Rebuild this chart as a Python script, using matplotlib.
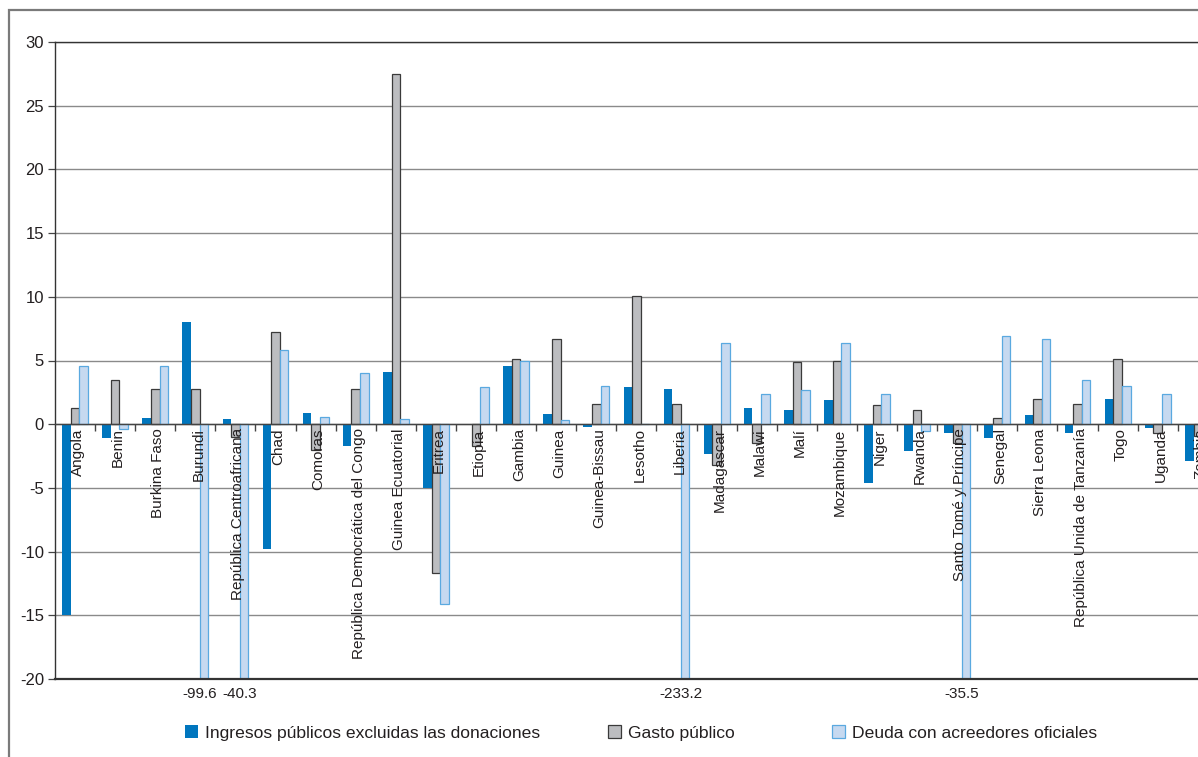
import matplotlib
matplotlib.use("Agg")
import matplotlib.pyplot as plt
from matplotlib.patches import Rectangle, Patch
from matplotlib.ticker import FixedLocator, MultipleLocator
from matplotlib.transforms import ScaledTranslation
import numpy as np

plt.rcParams['font.family'] = ['Liberation Sans', 'DejaVu Sans']
plt.rcParams['axes.unicode_minus'] = False

categories = ["Angola", "Benin", "Burkina Faso", "Burundi", "República Centroafricana",
              "Chad", "Comoras", "República Democrática del Congo", "Guinea Ecuatorial",
              "Eritrea", "Etiopía", "Gambia", "Guinea", "Guinea-Bissau", "Lesotho",
              "Liberia", "Madagascar", "Malawi", "Malí", "Mozambique", "Niger", "Rwanda",
              "Santo Tomé y Príncipe", "Senegal", "Sierra Leona",
              "República Unida de Tanzanía", "Togo", "Uganda", "Zambia"]
ingresos = [-15.0, -1.1, 0.5, 8.0, 0.4, -9.8, 0.9, -1.7, 4.1, -5.0, 0.0, 4.6, 0.8, -0.2,
            2.9, 2.8, -2.3, 1.3, 1.1, 1.9, -4.6, -2.1, -0.7, -1.1, 0.7, -0.7, 2.0, -0.3, -2.9]
gasto = [1.3, 3.5, 2.8, 2.8, -1.0, 7.2, -2.0, 2.8, 27.5, -11.7, -1.7, 5.1, 6.7, 1.6,
         10.1, 1.6, -3.2, -1.5, 4.9, 5.0, 1.5, 1.1, -1.5, 0.5, 2.0, 1.6, 5.1, -0.7, -0.9]
deuda = [4.6, -0.4, 4.6, -99.6, -40.3, 5.8, 0.6, 4.0, 0.4, -14.1, 2.9, 5.0, 0.3, 3.0,
         0.0, -233.2, 6.4, 2.4, 2.7, 6.4, 2.4, -0.5, -35.5, 6.9, 6.7, 3.5, 3.0, 2.4, 4.2]
series_names = ["Ingresos públicos excluidas las donaciones", "Gasto público",
                "Deuda con acreedores oficiales"]

W, H = 1198, 757
fig = plt.figure(figsize=(W / 100, H / 100), dpi=100)
fig.patch.set_facecolor('white')

left_px, top_px, bottom_px = 55, 42, 679
cat_w = 40.1
n = len(categories)
right_px = left_px + n * cat_w
ax = fig.add_axes([left_px / W, (H - bottom_px) / H,
                   (right_px - left_px) / W, (bottom_px - top_px) / H])

# outer chart frame
fig.add_artist(Rectangle((9 / W, -0.1), 1.2, (H - 10) / H + 0.1, transform=fig.transFigure,
                         fill=False, edgecolor='#7a7a7a', linewidth=1.6))

x = np.arange(n)
bw = 0.215
c_blue, c_gray, c_light = '#0076BE', '#BCBDC0', '#C6D9F0'
txt = '#231F20'

ax.bar(x - bw, ingresos, bw, color=c_blue, edgecolor='none', zorder=2)
ax.bar(x, gasto, bw, color=c_gray, edgecolor='#3a3a3a', linewidth=0.9, zorder=2)
ax.bar(x + bw, deuda, bw, color=c_light, edgecolor='#5AA9E0', linewidth=0.9, zorder=2)

ax.set_xlim(-0.5, n - 0.5)
ax.set_ylim(-20, 30)
ax.yaxis.set_major_locator(MultipleLocator(5))
ax.yaxis.grid(True, color='#8a8a8a', linewidth=1.0)
ax.yaxis.set_zorder(0.5)
ax.xaxis.set_zorder(3)
ax.tick_params(axis='y', direction='out', length=5, width=0.9, color='#444444',
               labelsize=12, labelcolor=txt, pad=3)

# category axis at zero
ax.spines['bottom'].set_position(('data', 0))
ax.spines['bottom'].set_color('#444444')
ax.spines['bottom'].set_linewidth(1.0)
ax.spines['right'].set_visible(False)
for s in ['left', 'top']:
    ax.spines[s].set_color('#333333')
    ax.spines[s].set_linewidth(1.0)
ax.axhline(-20, color='#333333', linewidth=1.6, zorder=3, clip_on=False)

ax.xaxis.set_major_locator(FixedLocator(x))
ax.xaxis.set_minor_locator(FixedLocator(x[:-1] + 0.5))
ax.set_xticklabels(categories, rotation=90, fontsize=11, color=txt)
ax.tick_params(axis='x', which='major', length=0, pad=3)
ax.tick_params(axis='x', which='minor', direction='out', length=5, width=1.0, color='#444444')
shift = ScaledTranslation(3 / 100, 0, fig.dpi_scale_trans)
for lbl in ax.get_xticklabels():
    lbl.set_transform(lbl.get_transform() + shift)

# labels for off-scale values
ymin = ax.get_ylim()[0]
for i, v in enumerate(deuda):
    if v < ymin:
        ax.annotate(f"{v:.1f}", xy=(x[i] + bw - 0.1, ymin), xytext=(0, -8),
                    textcoords='offset pixels', ha='center', va='top', fontsize=11,
                    color=txt, annotation_clip=False)

handles = [Patch(facecolor=c_blue, edgecolor='none'),
           Patch(facecolor=c_gray, edgecolor='#3a3a3a', linewidth=0.9),
           Patch(facecolor=c_light, edgecolor='#5AA9E0', linewidth=0.9)]
legend_x_px = [185, 608, 832]
for h, name, lx in zip(handles, series_names, legend_x_px):
    fig.legend([h], [name], loc='center left', bbox_to_anchor=(lx / W, (H - 733) / H),
               frameon=False, fontsize=12.6, handlelength=0.72, handleheight=0.72,
               handletextpad=0.4, borderpad=0, borderaxespad=0, labelcolor=txt)

fig.savefig("out.png", dpi=100)
